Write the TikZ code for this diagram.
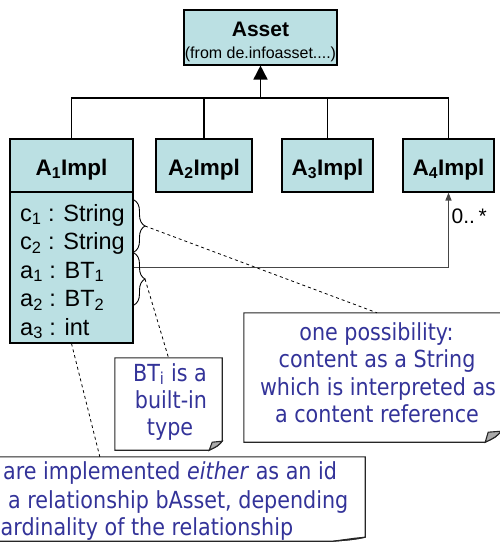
\documentclass[tikz,border=0pt]{standalone}
\usepackage{fontspec}
\setmainfont{Liberation Sans}
\newfontfamily\notefont[FakeStretch=0.88]{DejaVu Sans}
\usetikzlibrary{arrows.meta,decorations.pathreplacing}

\definecolor{clsfill}{RGB}{187,224,227}
\definecolor{notetext}{RGB}{51,51,153}
\definecolor{flapgrey}{RGB}{170,170,170}
\definecolor{assocgrey}{RGB}{70,70,70}

% note with a folded bottom-right corner; #1 node name, #2/#3 fold size, #4/#5 inner flap point
\newcommand\drawfoldnote[5]{%
  \draw[noteline, fill=white] (#1.north west) -- (#1.north east)
    -- ([yshift=#3]#1.south east)
    .. controls ([xshift=-0.35*#2,yshift=0.45*#3]#1.south east) .. ([xshift=-#2]#1.south east)
    -- (#1.south west) -- cycle;
  \draw[noteline, fill=flapgrey] ([xshift=-#2]#1.south east)
    -- ([xshift=-#4,yshift=#5]#1.south east)
    -- ([yshift=#3]#1.south east)
    .. controls ([xshift=-0.35*#2,yshift=0.45*#3]#1.south east) .. cycle;
}

\begin{document}
\begin{tikzpicture}[x=1pt,y=-1pt,
  cls/.style={draw=black, line width=1.1pt, fill=clsfill, inner sep=0pt},
  title/.style={anchor=base, inner sep=0pt, font=\bfseries\fontsize{22.5}{26}\selectfont},
  attr/.style={anchor=base west, inner sep=0pt, font=\fontsize{23.5}{28}\selectfont},
  tree/.style={draw=black, line width=1.1pt},
  assoc/.style={draw=assocgrey, line width=1.3pt},
  bracestyle/.style={draw=black, line width=0.9pt, decorate, decoration={brace, amplitude=11pt}},
  dashline/.style={draw=black, line width=0.8pt, dash pattern=on 3pt off 3pt},
  notebox/.style={inner sep=0pt},
  noteline/.style={draw=black!85, line width=1.1pt},
  notetxt/.style={anchor=base, inner sep=0pt, text=notetext, font=\notefont\fontsize{23.5}{28}\selectfont},
  notetxtw/.style={notetxt, anchor=base west}]

\useasboundingbox (0,0) rectangle (500,543);
\clip (0,0) rectangle (500,543);

% ---- base class ----
\node[cls, minimum width=153pt, minimum height=55pt] (asset) at (260.5,37.5) {};
\node[anchor=base, inner sep=0pt, font=\bfseries\fontsize{21}{24}\selectfont] (assetname) at (260.5,36.7) {Asset};
\node[anchor=base, inner sep=0pt, font=\fontsize{16}{18}\selectfont] (assetfrom) at (260.5,59) {(from de.infoasset....)};

% ---- implementation classes ----
\node[cls, minimum width=123pt, minimum height=53pt] (a1) at (71.5,165.5) {};
\node[cls, minimum width=123pt, minimum height=151pt] (a1attr) at (71.5,267.5) {};
\node[cls, minimum width=96pt, minimum height=53pt] (a2) at (204,165.5) {};
\node[cls, minimum width=91pt, minimum height=53pt] (a3) at (327.5,165.5) {};
\node[cls, minimum width=91pt, minimum height=53pt] (a4) at (448.5,165.5) {};

\node[title] (a1t) at (71.5,175) {A\textsubscript{1}Impl};
\node[title] (a2t) at (204,175) {A\textsubscript{2}Impl};
\node[title] (a3t) at (327.5,175) {A\textsubscript{3}Impl};
\node[title] (a4t) at (448.5,175) {A\textsubscript{4}Impl};

% ---- attributes of A1Impl ----
\node[attr] (c1) at (20,221) {c\textsubscript{1} : String};
\node[attr] (c2) at (20,249.5) {c\textsubscript{2} : String};
\node[attr] (at1) at (20,278) {a\textsubscript{1} : BT\textsubscript{1}};
\node[attr] (at2) at (20,306.5) {a\textsubscript{2} : BT\textsubscript{2}};
\node[attr] (at3) at (20,335) {a\textsubscript{3} : int};

% ---- generalization tree ----
\coordinate (bar) at (260.5,98);
\draw[tree] (a1.north) -- (a1.north |- bar) -- (a4.north |- bar) -- (a4.north);
\draw[tree] (a2.north) -- (a2.north |- bar);
\draw[tree] (a3.north) -- (a3.north |- bar);
\draw[tree, line width=1.6pt, -{Triangle[width=14pt,length=14pt]}] (bar) -- (asset.south);

% ---- association A1Impl -> A4Impl ----
\draw[assoc, -{Triangle[width=6pt,length=8pt]}] (a1attr.east) -| (a4.south);
\node[anchor=base west, inner sep=0pt, font=\fontsize{21}{24}\selectfont] (mult) at (451.5,223) {0..\,*};

% ---- braces grouping attributes ----
\draw[bracestyle] (134,200) -- (134,252);
\draw[bracestyle] (134,253) -- (134,305);
\coordinate (tip1) at (145,226);
\coordinate (tip2) at (145,279);

% ---- notes ----
\node[notebox, minimum width=257pt, minimum height=129pt] (n1) at (372.5,377.5) {};
\drawfoldnote{n1}{16pt}{11pt}{13pt}{10pt}
\node[notetxt] (n1l1) at (376.5,340) {one possibility:};
\node[notetxt] (n1l2) at (377,367.5) {content as a String};
\node[notetxt] (n1l3) at (378,395) {which is interpreted as};
\node[notetxt] (n1l4) at (377,422) {a content reference};

\node[notebox, minimum width=107pt, minimum height=92pt] (n2) at (168.5,404) {};
\drawfoldnote{n2}{13pt}{9pt}{10pt}{8pt}
\node[notetxt] (n2l1) at (170,381) {BT\textsubscript{i} is a};
\node[notetxt] (n2l2) at (171,408) {built-in};
\node[notetxt] (n2l3) at (170,435) {type};

\node[notebox, minimum width=370pt, minimum height=84pt] (n3) at (180,499) {};
\drawfoldnote{n3}{32pt}{4pt}{10pt}{3pt}
\node[notetxtw] (n3l1) at (3,479) {are implemented \textit{either} as an id};
\node[notetxtw] (n3l2) at (8,508) {a relationship bAsset, depending};
\node[notetxtw] (n3l3) at (0.5,535) {ardinality of the relationship};

% ---- note anchors ----
\draw[dashline] (tip1) -- ([xshift=4.5pt]n1.north);
\draw[dashline] (tip2) -- (n2.north);
\draw[dashline] (a1attr.south) -- ([xshift=105pt]n3.north west);

\end{tikzpicture}
\end{document}
